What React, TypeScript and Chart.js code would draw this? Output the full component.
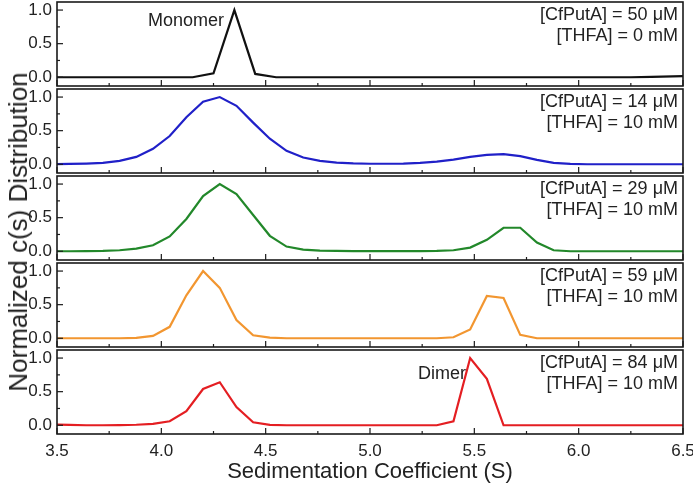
import React, { useEffect, useRef } from "react";
import { Chart, registerables } from "chart.js";

Chart.register(...registerables);

// ---- data ----
const sGridMonomer = [3.45, 3.55, 3.65, 3.75, 3.85, 3.95, 4.05, 4.15, 4.25, 4.35, 4.45, 4.55, 4.65, 4.75, 4.85, 4.95, 5.05, 5.15, 5.25, 5.35, 5.45, 5.55, 5.65, 5.75, 5.85, 5.95, 6.05, 6.15, 6.25, 6.35, 6.45, 6.55];
const cs50uM_0mM = [0, 0, 0, 0, 0, 0, 0, 0, 0.06, 1.0, 0.05, 0, 0, 0, 0, 0, 0, 0, 0, 0, 0, 0, 0, 0, 0, 0, 0, 0, 0, 0.005, 0.012, 0.02];

const sGrid = [3.48, 3.56, 3.64, 3.72, 3.80, 3.88, 3.96, 4.04, 4.12, 4.20, 4.28, 4.36, 4.44, 4.52, 4.60, 4.68, 4.76, 4.84, 4.92, 5.00, 5.08, 5.16, 5.24, 5.32, 5.40, 5.48, 5.56, 5.64, 5.72, 5.80, 5.88, 5.96, 6.04, 6.12, 6.20, 6.28, 6.36, 6.44, 6.52];
const cs14uM_10mM = [0, 0.005, 0.01, 0.02, 0.05, 0.11, 0.23, 0.42, 0.7, 0.93, 1.0, 0.87, 0.62, 0.38, 0.2, 0.1, 0.05, 0.025, 0.012, 0.008, 0.008, 0.01, 0.02, 0.04, 0.07, 0.11, 0.14, 0.15, 0.12, 0.065, 0.02, 0.005, 0, 0, 0, 0, 0, 0, 0];
const cs29uM_10mM = [0, 0, 0.002, 0.005, 0.015, 0.04, 0.09, 0.22, 0.48, 0.82, 1.0, 0.85, 0.54, 0.23, 0.07, 0.025, 0.01, 0.005, 0.003, 0.002, 0.002, 0.002, 0.003, 0.005, 0.015, 0.055, 0.17, 0.35, 0.35, 0.13, 0.015, 0, 0, 0, 0, 0, 0, 0, 0];
const cs59uM_10mM = [0, 0, 0, 0, 0, 0.005, 0.035, 0.17, 0.64, 1.0, 0.75, 0.27, 0.045, 0.01, 0, 0, 0, 0, 0, 0, 0, 0, 0, 0, 0.015, 0.13, 0.63, 0.6, 0.05, 0, 0, 0, 0, 0, 0, 0, 0, 0, 0];
const cs84uM_10mM = [0.01, 0.005, 0, 0, 0.003, 0.008, 0.02, 0.06, 0.21, 0.54, 0.64, 0.27, 0.045, 0.005, 0, 0, 0, 0, 0, 0, 0, 0, 0, 0, 0.06, 1.0, 0.69, 0, 0, 0, 0, 0, 0, 0, 0, 0, 0, 0, 0];

const xTickValues = [3.5, 4.0, 4.5, 5.0, 5.5, 6.0, 6.5];
const yTickValues = [0, 0.5, 1.0];

const panelNotes = [
  ["[CfPutA] = 50 μM", "[THFA] = 0 mM"],
  ["[CfPutA] = 14 μM", "[THFA] = 10 mM"],
  ["[CfPutA] = 29 μM", "[THFA] = 10 mM"],
  ["[CfPutA] = 59 μM", "[THFA] = 10 mM"],
  ["[CfPutA] = 84 μM", "[THFA] = 10 mM"],
];
const peakLabels = ["Monomer", "", "", "", "Dimer"];
const peakLabelAt = [4.3, 0, 0, 0, 5.46];

const xTitle = "Sedimentation Coefficient (S)";
const yTitle = "Normalized c(s) Distribution";

// ---- styling ----
const FONT = "Arial, 'Liberation Sans', Helvetica, sans-serif";
const TEXT = "#222";
const panelColors = ["#111111", "#2020c8", "#22882a", "#f29630", "#e41e22"];
const panelSeries = [
  { x: sGridMonomer, y: cs50uM_0mM },
  { x: sGrid, y: cs14uM_10mM },
  { x: sGrid, y: cs29uM_10mM },
  { x: sGrid, y: cs59uM_10mM },
  { x: sGrid, y: cs84uM_10mM },
];

const PANEL_TOP0 = 2;
const PANEL_H = 84;
const PANEL_GAP = 3;
const PLOT_LEFT = 57;
const PLOT_RIGHT = 683;
const W = 693;
const H = 486;

function framePlugin(idx: number) {
  return {
    id: "frame" + idx,
    afterDatasetsDraw(chart: any) {
      const { ctx, chartArea } = chart;
      const xs = chart.scales.x;
      const ys = chart.scales.y;
      ctx.save();
      ctx.strokeStyle = "#1a1a1a";
      ctx.lineWidth = 1.6;
      ctx.strokeRect(chartArea.left, chartArea.top, chartArea.right - chartArea.left, chartArea.bottom - chartArea.top);
      ctx.lineWidth = 1.2;
      for (let v = 3.5; v <= 6.5001; v += 0.25) {
        const px = xs.getPixelForValue(v);
        const major = Math.abs(v * 2 - Math.round(v * 2)) < 1e-6;
        const len = major ? 6 : 3;
        ctx.beginPath();
        ctx.moveTo(px, chartArea.bottom);
        ctx.lineTo(px, chartArea.bottom - len);
        ctx.stroke();
      }
      for (let v = 0; v <= 1.0001; v += 0.25) {
        const py = ys.getPixelForValue(v);
        const major = Math.abs(v * 2 - Math.round(v * 2)) < 1e-6;
        const len = major ? 6 : 3;
        ctx.beginPath();
        ctx.moveTo(chartArea.left, py);
        ctx.lineTo(chartArea.left + len, py);
        ctx.stroke();
      }
      ctx.fillStyle = TEXT;
      ctx.font = `18px ${FONT}`;
      ctx.textAlign = "right";
      ctx.textBaseline = "middle";
      const notes = panelNotes[idx];
      ctx.fillText(notes[0], chartArea.right - 5, chartArea.top + 13);
      ctx.fillText(notes[1], chartArea.right - 5, chartArea.top + 34);
      if (peakLabels[idx]) {
        ctx.textAlign = "right";
        ctx.fillText(peakLabels[idx], xs.getPixelForValue(peakLabelAt[idx]), chartArea.top + (idx === 0 ? 19 : 24));
      }
      ctx.restore();
    },
  };
}

function Panel({ idx }: { idx: number }) {
  const ref = useRef<HTMLCanvasElement | null>(null);
  const isLast = idx === 4;
  const top = PANEL_TOP0 + idx * (PANEL_H + PANEL_GAP);
  const canvasTop = top - 2;
  const canvasH = isLast ? H - canvasTop : PANEL_H + 4;

  useEffect(() => {
    if (!ref.current) return;
    const s = panelSeries[idx];
    const data = s.x.map((x, i) => ({ x, y: s.y[i] }));
    const chart = new Chart(ref.current, {
      type: "line",
      data: {
        datasets: [
          {
            data,
            borderColor: panelColors[idx],
            borderWidth: 2.2,
            pointRadius: 0,
            tension: 0,
            fill: false,
          },
        ],
      },
      options: {
        animation: false,
        responsive: false,
        maintainAspectRatio: false,
        devicePixelRatio: 1,
        layout: { padding: { left: 0, right: W - PLOT_RIGHT, top: 2, bottom: isLast ? 0 : 2 } },
        plugins: { legend: { display: false }, tooltip: { enabled: false }, title: { display: false } },
        scales: {
          x: {
            type: "linear",
            min: 3.5,
            max: 6.5,
            display: isLast,
            grid: { display: true, drawOnChartArea: false, drawTicks: false },
            border: { display: false },
            afterBuildTicks: (sc: any) => {
              sc.ticks = xTickValues.map((v) => ({ value: v }));
            },
            afterFit: (sc: any) => {
              sc.height = isLast ? canvasH - 2 - PANEL_H : 0;
              sc.paddingLeft = 0;
              sc.paddingRight = 0;
              sc.paddingTop = 0;
              sc.paddingBottom = 0;
            },
            ticks: {
              color: TEXT,
              font: { family: FONT, size: 17 },
              padding: 7,
              maxRotation: 0,
              autoSkip: false,
              callback: (v: any) => Number(v).toFixed(1),
            },
            title: {
              display: isLast,
              text: xTitle,
              color: TEXT,
              font: { family: FONT, size: 22 },
              padding: { top: 0, bottom: 1 },
            },
          },
          y: {
            type: "linear",
            min: -0.13,
            max: 1.12,
            grid: { display: true, drawOnChartArea: false, drawTicks: false },
            border: { display: false },
            afterBuildTicks: (sc: any) => {
              sc.ticks = yTickValues.map((v) => ({ value: v }));
            },
            afterFit: (sc: any) => {
              sc.width = PLOT_LEFT;
              sc.paddingLeft = 0;
              sc.paddingRight = 0;
              sc.paddingTop = 0;
              sc.paddingBottom = 0;
            },
            ticks: {
              color: TEXT,
              font: { family: FONT, size: 17 },
              padding: 5,
              callback: (v: any) => Number(v).toFixed(1),
            },
          },
        },
      },
      plugins: [framePlugin(idx)],
    });
    return () => chart.destroy();
  }, [idx]);

  return (
    <canvas
      ref={ref}
      width={W}
      height={canvasH}
      style={{ position: "absolute", left: 0, top: canvasTop, width: W, height: canvasH }}
    />
  );
}

export default function App() {
  return (
    <div style={{ position: "fixed", left: 0, top: 0, width: W, height: H, background: "#fff", overflow: "hidden" }}>
      {[0, 1, 2, 3, 4].map((i) => (
        <Panel key={i} idx={i} />
      ))}
      <div
        style={{
          position: "absolute",
          left: 18,
          top: 232,
          transform: "translate(-50%, -50%) rotate(-90deg)",
          whiteSpace: "nowrap",
          fontFamily: FONT,
          fontSize: 26,
          color: TEXT,
          lineHeight: 1,
        }}
      >
        {yTitle}
      </div>
    </div>
  );
}
